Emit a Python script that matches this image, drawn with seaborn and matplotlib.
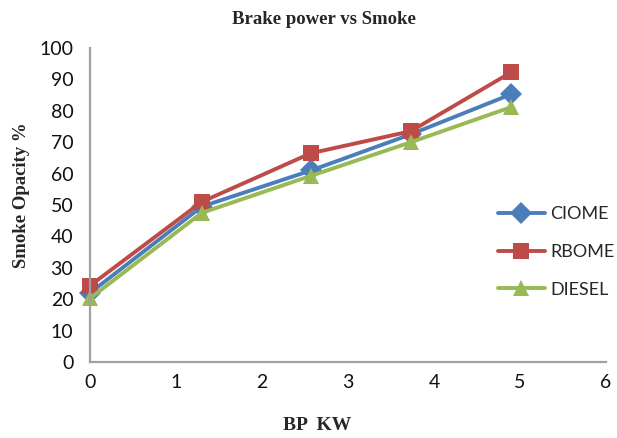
import matplotlib
matplotlib.use("Agg")
import matplotlib.pyplot as plt
import seaborn as sns
import pandas as pd

bp_kw = [0, 1.3, 2.57, 3.73, 4.9]
ciome = [22, 49.5, 61, 72.5, 85.3]
rbome = [24.3, 51, 66.5, 73.5, 92.3]
diesel = [20.3, 47.5, 59.3, 70, 81.2]
series_names = ["CIOME", "RBOME", "DIESEL"]
x_ticks = [0, 1, 2, 3, 4, 5, 6]
y_ticks = [0, 10, 20, 30, 40, 50, 60, 70, 80, 90, 100]

df = pd.DataFrame({
    "BP": bp_kw * 3,
    "Smoke": ciome + rbome + diesel,
    "Fuel": [series_names[0]] * 5 + [series_names[1]] * 5 + [series_names[2]] * 5,
})

sns.set_theme(style="white")
plt.rcParams["font.family"] = ["Lato", "DejaVu Sans"]

fig = plt.figure(figsize=(6.17, 4.38), dpi=100)
ax = fig.add_axes([90/617, 1-362/438, (606-90)/617, (362-48)/438])

palette = {"CIOME": "#4a7ebb", "RBOME": "#be4b48", "DIESEL": "#98b954"}
markers = {"CIOME": "D", "RBOME": "s", "DIESEL": "^"}
sns.lineplot(data=df, x="BP", y="Smoke", hue="Fuel", style="Fuel",
             palette=palette, markers=markers, dashes=False,
             linewidth=2.8, markersize=11, markeredgewidth=0, ax=ax)

ax.set_xlim(0, 6)
ax.set_ylim(0, 100)
ax.set_xticks(x_ticks)
ax.set_yticks(y_ticks)
ax.tick_params(axis="both", length=0, labelsize=14, colors="#111111")
ax.tick_params(axis="y", pad=12)
ax.tick_params(axis="x", pad=9)
for s in ["top", "right"]:
    ax.spines[s].set_visible(False)
for s in ["left", "bottom"]:
    ax.spines[s].set_color("#a0a0a0")
    ax.spines[s].set_linewidth(1.6)
ax.set_xlabel("")
ax.set_ylabel("")

for line in ax.lines:
    line.set_clip_on(False)

leg = ax.legend(title=None, loc="center left", bbox_to_anchor=(0.79, 0.35),
                frameon=False, fontsize=13, handlelength=2.6,
                labelspacing=1.2, handletextpad=0.3, borderaxespad=0, borderpad=0)
for h in leg.legend_handles:
    h.set_linewidth(2.8)
    h.set_markersize(11)

serif = ["Liberation Serif", "DejaVu Serif"]
fig.text(324/617, 1-20/438, "Brake power vs Smoke", ha="center", va="center",
         fontsize=13.5, fontweight="bold", family=serif)
fig.text(22/617, 1-195/438, "Smoke Opacity %", ha="center", va="center",
         rotation=90, fontsize=13.5, fontweight="bold", family=serif)
fig.text(317/617, 1-425/438, "BP  KW", ha="center", va="center",
         fontsize=14, fontweight="bold", family=serif)

fig.savefig("out.png", dpi=100)
